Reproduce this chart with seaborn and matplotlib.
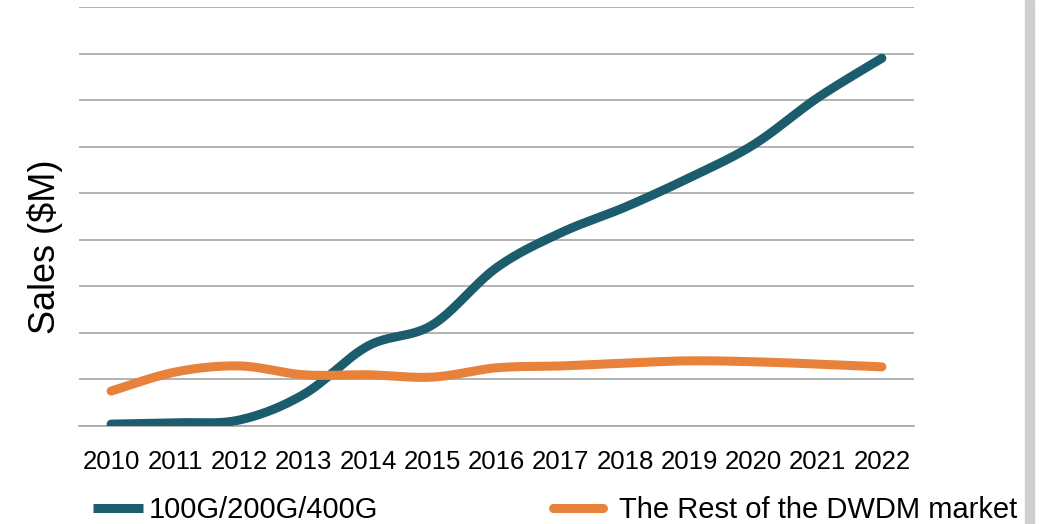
import numpy as np
import matplotlib
matplotlib.use("Agg")
import matplotlib.pyplot as plt
from matplotlib.lines import Line2D
from matplotlib.patches import Rectangle
import seaborn as sns

# chart data (values in gridline units)
years = [str(y) for y in range(2010, 2023)]
high_speed = [0.04, 0.07, 0.13, 0.68, 1.72, 2.17, 3.4, 4.15, 4.7, 5.33, 6.04, 7.05, 7.9]
rest_dwdm = [0.75, 1.16, 1.29, 1.1, 1.1, 1.05, 1.25, 1.29, 1.35, 1.4, 1.38, 1.33, 1.27]
series_names = ["100G/200G/400G", "The Rest of the DWDM market"]
colors = ["#1b5d6d", "#e8813a"]


def smooth(xs, ys, n=40):
    # Excel-style smoothed line: cubic bezier through each point (Catmull-Rom controls)
    xs = np.asarray(xs, float)
    ys = np.asarray(ys, float)
    px = np.concatenate([[xs[0]], xs, [xs[-1]]])
    py = np.concatenate([[ys[0]], ys, [ys[-1]]])
    out_x, out_y = [], []
    t = np.linspace(0, 1, n)
    for i in range(1, len(px) - 2):
        p0 = np.array([px[i], py[i]])
        p3 = np.array([px[i + 1], py[i + 1]])
        c1 = p0 + (p3 - np.array([px[i - 1], py[i - 1]])) / 6
        c2 = p3 - (np.array([px[i + 2], py[i + 2]]) - p0) / 6
        b = ((1 - t) ** 3)[:, None] * p0 + (3 * (1 - t) ** 2 * t)[:, None] * c1 \
            + (3 * (1 - t) * t ** 2)[:, None] * c2 + (t ** 3)[:, None] * p3
        out_x.extend(b[:, 0])
        out_y.extend(b[:, 1])
    return np.array(out_x), np.array(out_y)


sns.set_theme(style="white")
plt.rcParams["font.family"] = ["Liberation Sans", "DejaVu Sans"]
plt.rcParams["text.color"] = "black"

fig = plt.figure(figsize=(10.44, 5.24), dpi=100)
ax = fig.add_axes([79 / 1044, 98 / 524, 835 / 1044, 419 / 524])

pos = np.arange(len(years))
for vals, c in zip([high_speed, rest_dwdm], colors):
    sx, sy = smooth(pos, vals)
    sns.lineplot(x=sx, y=sy, sort=False, estimator=None, color=c, linewidth=6.5,
                 solid_capstyle="round", ax=ax, zorder=3)

ax.set_xlim(-0.5, len(years) - 0.5)
ax.set_ylim(0, 9)
ax.set_yticks(np.arange(0, 10))
ax.set_yticklabels([])
ax.tick_params(axis="y", length=0)
ax.grid(axis="y", color="#a6a6a6", linewidth=1.2)
ax.grid(axis="x", visible=False)

ax.set_xticks(pos)
ax.set_xticklabels(years, fontsize=18.5, color="black")
ax.tick_params(axis="x", which="major", length=0, pad=17)
ax.set_xticks(np.arange(-0.5, len(years)), minor=True)
ax.tick_params(axis="x", which="minor", length=7, width=1.2, color="#a6a6a6", direction="out")

for s in ["top", "right", "left"]:
    ax.spines[s].set_visible(False)
ax.spines["bottom"].set_color("#a6a6a6")
ax.spines["bottom"].set_linewidth(1.2)

fig.text(45 / 1044, 1 - 247 / 524, "Sales ($M)", rotation=90, fontsize=26,
         ha="center", va="center", color="black")

# legend entries, placed apart like the original
for name, c, xa, cap in zip(series_names, colors, [93, 553], ["butt", "round"]):
    h = Line2D([], [], color=c, linewidth=6.5, solid_capstyle=cap)
    fig.legend(handles=[h], labels=[name], loc="center left",
               bbox_to_anchor=(xa / 1044, 1 - 510 / 524), frameon=False,
               fontsize=21, handlelength=1.7, handletextpad=0.2 if cap == "butt" else 0.55,
               borderpad=0, borderaxespad=0, labelcolor="black")

# grey side bar on the right edge
fig.patches.append(Rectangle((1025 / 1044, 0), 9 / 1044, 1, transform=fig.transFigure,
                             color="#d0cece", zorder=0))

fig.savefig("out.png", dpi=100)
